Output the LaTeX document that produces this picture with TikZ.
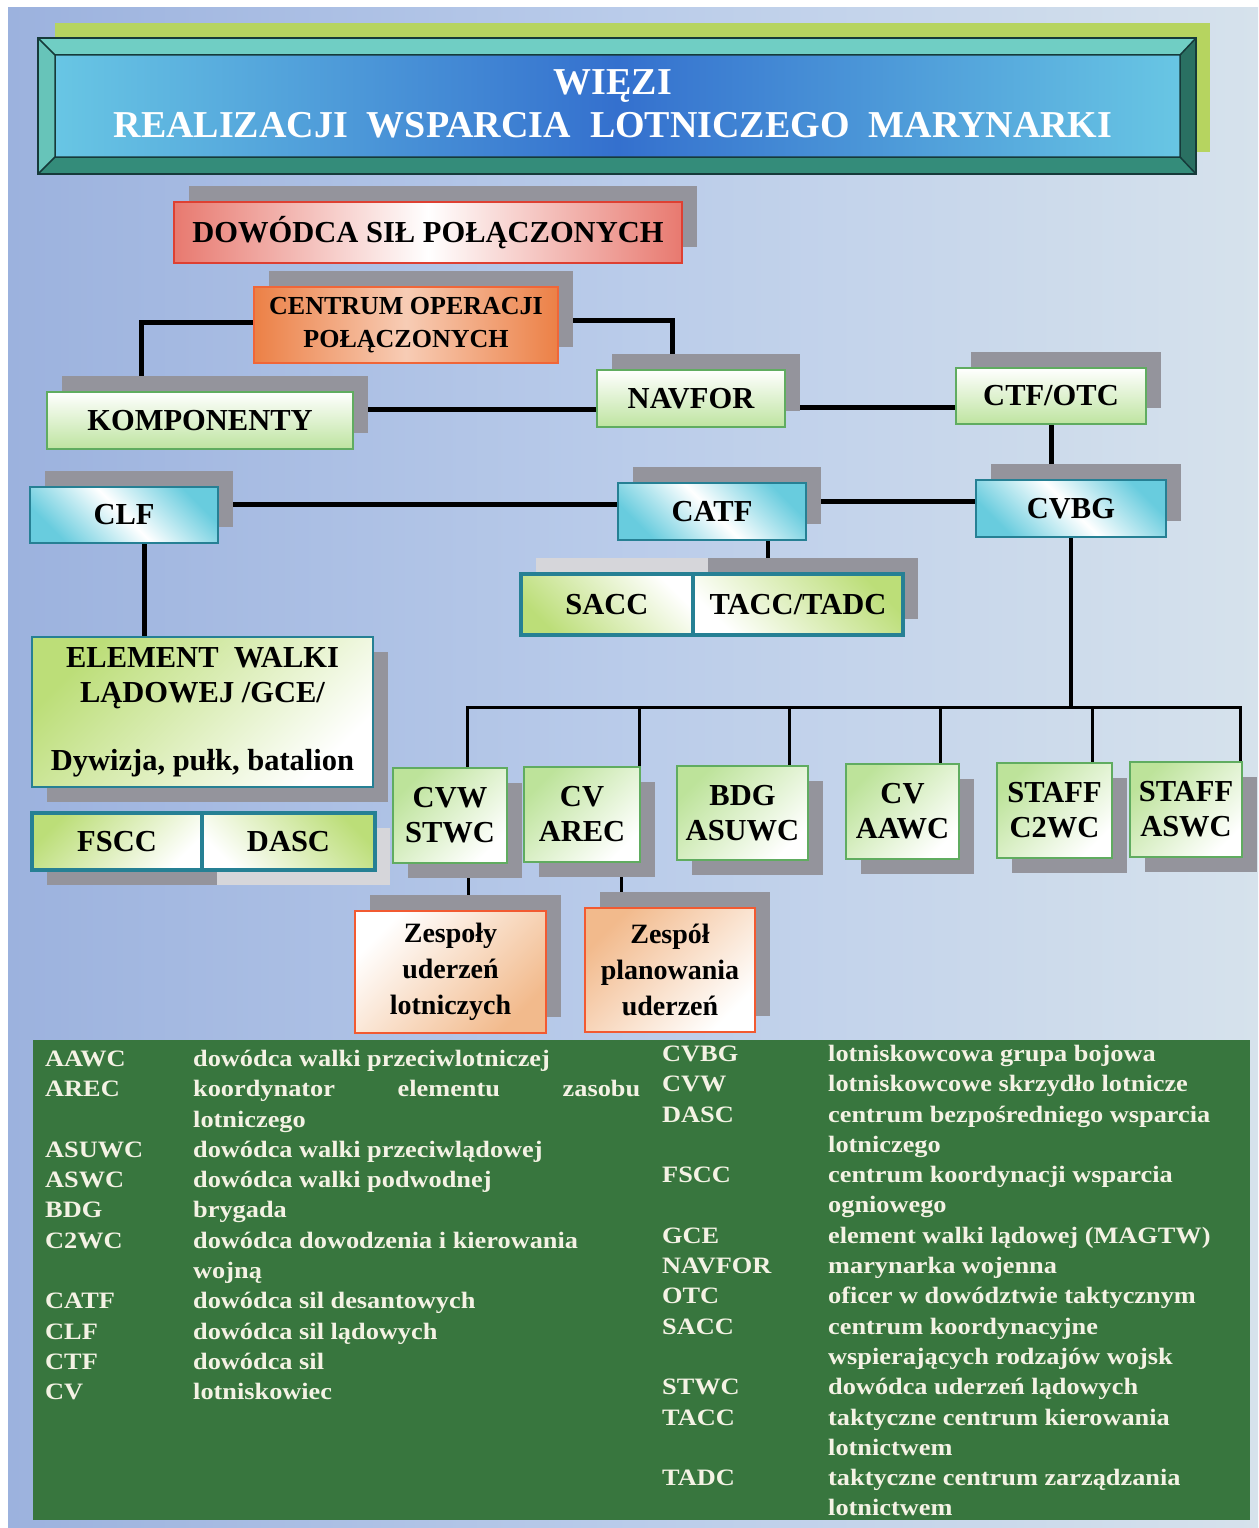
\documentclass[tikz,border=0pt]{standalone}
\usepackage{fontspec}
\setmainfont{Liberation Serif}
\newfontfamily\legendfont[FakeStretch=1.12]{Liberation Serif}
\usepackage{tikz}
\usetikzlibrary{positioning, calc, shadows}
\pgfdeclarelayer{back}
\pgfdeclarelayer{wires}
\pgfsetlayers{back,wires,main}
\definecolor{bgleft}{RGB}{156,178,222}
\definecolor{bgmid}{RGB}{186,204,234}
\definecolor{bgright}{RGB}{214,226,236}
\definecolor{shadowgray}{RGB}{148,148,156}
\definecolor{shadowpale}{RGB}{214,214,218}
\definecolor{titlegreen}{RGB}{182,212,96}
\definecolor{tealhi}{RGB}{112,206,196}
\definecolor{teallo}{RGB}{52,140,122}
\definecolor{tealdark}{RGB}{22,58,58}
\definecolor{titlemid}{RGB}{52,112,206}
\definecolor{titleedge}{RGB}{104,198,228}
\definecolor{boxred}{RGB}{222,64,50}
\definecolor{boxorange}{RGB}{236,128,70}
\definecolor{boxgreen}{RGB}{96,172,96}
\definecolor{paleleaf}{RGB}{190,228,160}
\definecolor{boxteal}{RGB}{38,128,148}
\definecolor{paleaqua}{RGB}{104,204,222}
\definecolor{limegreen}{RGB}{176,216,96}
\definecolor{peach}{RGB}{242,186,140}
\definecolor{legendgreen}{RGB}{56,118,62}
\definecolor{legendtext}{RGB}{244,242,228}

\begin{document}
\begin{tikzpicture}[
    x=1pt, y=-1pt,
    % Box Styles
    box/.style={rectangle, draw=#1, line width=1.5pt, align=center, inner sep=0pt, font=\fontsize{30.5}{35}\selectfont\bfseries},
    upshade/.style={drop shadow={shadow xshift=15pt, shadow yshift=16pt, fill=#1, opacity=1}},
    upshade/.default=shadowgray,
    downshade/.style={drop shadow={shadow xshift=15pt, shadow yshift=-15pt, fill=#1, opacity=1}},
    downshade/.default=shadowgray,
    redbox/.style={box=boxred, left color=boxred!70!white, right color=boxred!70!white, middle color=white},
    orangebox/.style={box=boxorange!80!red, left color=boxorange, right color=boxorange, middle color=boxorange!40!white},
    leafbox/.style={box=boxgreen, top color=white, bottom color=paleleaf},
    aquabox/.style={box=boxteal, left color=paleaqua, right color=paleaqua, middle color=white, shading angle=135},
    limebox/.style={box=boxteal, line width=3.5pt, left color=limegreen!85!white, right color=white, shading angle=#1},
    unitbox/.style={box=boxgreen, left color=paleleaf!90!limegreen, right color=white, shading angle=45},
    peachbox/.style 2 args={box=boxorange!70!red, left color=#1, right color=#2, shading angle=45, font=\fontsize{28}{36}\selectfont\bfseries},
    % Line Styles
    link/.style={line width=5pt},
    buslink/.style={line width=3pt},
    legend/.style={text=legendtext, align=left, inner sep=0pt, anchor=north west, font=\legendfont\fontsize{23.5}{30.3}\selectfont\bfseries}
]
    \useasboundingbox (0,0) rectangle (1258,1528);

    % =========================================================================
    % PAGE BACKGROUND
    % =========================================================================
    \begin{pgfonlayer}{back}
    \fill[white] (0,0) rectangle (1258,1528);
    \shade[left color=bgleft, right color=bgright, middle color=bgmid] (8,8) rectangle (1258,1528);
    \end{pgfonlayer}

    % =========================================================================
    % TITLE PLATE
    % =========================================================================
    \fill[titlegreen] (55,23) rectangle (1210,152);
    \shade[left color=titleedge, right color=titleedge, middle color=titlemid] (55,55) rectangle (1180,157);
    \fill[tealhi] (38,38) -- (1196,38) -- (1180,55) -- (55,55) -- cycle;
    \fill[tealhi!85!teallo] (38,38) -- (55,55) -- (55,157) -- (38,174) -- cycle;
    \fill[teallo] (38,174) -- (55,157) -- (1180,157) -- (1196,174) -- cycle;
    \fill[teallo!80!black] (1196,38) -- (1180,55) -- (1180,157) -- (1196,174) -- cycle;
    \draw[tealdark, line width=2.5pt] (38,38) rectangle (1196,174);
    \draw[tealdark, line width=1.5pt] (55,55) rectangle (1180,157)
      (38,38) -- (55,55) (1196,38) -- (1180,55) (38,174) -- (55,157) (1196,174) -- (1180,157);
    \node (title) [text=white, align=center, font=\fontsize{38}{43}\selectfont\bfseries] at (613,104)
      {WIĘZI\\REALIZACJI\ \ WSPARCIA\ \ LOTNICZEGO\ \ MARYNARKI};

    % =========================================================================
    % 1. COMMAND LEVEL
    % =========================================================================
    \node (dowodca) [redbox, upshade, minimum width=508pt, minimum height=61pt] at (428,232.5) {DOWÓDCA SIŁ POŁĄCZONYCH};
    \node (centrum) [orangebox, upshade, minimum width=304pt, minimum height=76pt, font=\fontsize{26}{33}\selectfont\bfseries] at (406,325) {CENTRUM OPERACJI\\POŁĄCZONYCH};
    \node (komp)   [leafbox, upshade, minimum width=306pt, minimum height=57pt] at (200,420.5) {KOMPONENTY};
    \node (navfor) [leafbox, upshade, minimum width=188pt, minimum height=57pt] at (691,398.5) {NAVFOR};
    \node (ctf)    [leafbox, upshade, minimum width=190pt, minimum height=56pt] at (1051,396) {CTF/OTC};

    % =========================================================================
    % 2. FORCE COMMANDERS
    % =========================================================================
    \node (clf)  [aquabox, upshade, minimum width=188pt, minimum height=56pt] at (124,515) {CLF};
    \node (catf) [aquabox, upshade, minimum width=188pt, minimum height=57pt] at (712,511.5) {CATF};
    \node (cvbg) [aquabox, upshade, minimum width=190pt, minimum height=57pt] at (1071,508.5) {CVBG};
    \node (sacc) [limebox=135, upshade=shadowpale, minimum width=172pt, minimum height=61pt] at (607,604.5) {SACC};
    \node (tacc) [limebox=-45, upshade, minimum width=210pt, minimum height=61pt] at (798,604.5) {TACC/TADC};

    % =========================================================================
    % 3. GROUND COMBAT ELEMENT
    % =========================================================================
    \node (element) [box=boxteal, left color=limegreen!85!white, right color=white, shading angle=45, downshade, minimum width=341pt, minimum height=150pt] at (202.5,712)
      {ELEMENT\ \ WALKI\\LĄDOWEJ /GCE/\\[33pt]Dywizja, pułk, batalion};
    \node (fscc) [limebox=45, downshade, minimum width=170pt, minimum height=57pt] at (117,841.5) {FSCC};
    \node (dasc) [limebox=-45, downshade=shadowpale, minimum width=173pt, minimum height=57pt] at (288.5,841.5) {DASC};

    % =========================================================================
    % 4. WARFARE COMMANDERS
    % =========================================================================
    \node (cvw)  [unitbox, downshade, minimum width=114pt, minimum height=95pt] at (450,815.5) {CVW\\STWC};
    \node (arec) [unitbox, downshade, minimum width=116pt, minimum height=95pt] at (582,814.5) {CV\\AREC};
    \node (bdg)  [unitbox, downshade, minimum width=131pt, minimum height=94pt] at (742.5,813) {BDG\\ASUWC};
    \node (aawc) [unitbox, downshade, minimum width=113pt, minimum height=95pt] at (902.5,811.5) {CV\\AAWC};
    \node (c2wc) [unitbox, downshade, minimum width=115pt, minimum height=95pt] at (1054.5,810.5) {STAFF\\C2WC};
    \node (aswc) [unitbox, downshade, minimum width=112pt, minimum height=95pt] at (1186,809.5) {STAFF\\ASWC};

    \node (zespoly) [peachbox={white}{peach}, upshade, minimum width=191pt, minimum height=122pt] at (450.5,972) {Zespoły\\uderzeń\\lotniczych};
    \node (zespol)  [peachbox={peach}{white}, upshade, minimum width=170pt, minimum height=124pt] at (670,970) {Zespół\\planowania\\uderzeń};

    % =========================================================================
    % CONNECTIONS
    % =========================================================================
    \coordinate (bus) at ($(cvbg.south)+(0,170)$);
    \begin{pgfonlayer}{wires}
    \draw[link] ([yshift=3pt]centrum.west) -| ([xshift=-59pt]komp.north);
    \draw[link] ([yshift=5pt]centrum.east) -| ([xshift=-19pt]navfor.north);
    \draw[link] ([yshift=11.5pt]komp.east) -- ([yshift=-10.5pt]navfor.west);
    \draw[link] ([yshift=-8.5pt]navfor.east) -- ([yshift=-11pt]ctf.west);
    \draw[link] (ctf.south) -- (ctf.south |- cvbg.north);
    \draw[link] ([yshift=11pt]clf.east) -- ([yshift=7.5pt]catf.west);
    \draw[link] ([yshift=10.5pt]catf.east) -- ([yshift=7.5pt]cvbg.west);
    \draw[link] ([xshift=20pt]clf.south) -- ([xshift=-58.5pt]element.north);
    \draw[link, line width=4pt] ([xshift=56pt]catf.south) -- ([xshift=-30pt]tacc.north);
    \draw[link, line width=4pt] (cvbg.south) -- (bus);
    \draw[buslink] ([xshift=17pt]cvw.north) |- (bus) -| ([xshift=54pt]aswc.north);
    \draw[buslink] ([xshift=57pt]arec.north) |- (bus);
    \draw[buslink] ([xshift=46.5pt]bdg.north) |- (bus);
    \draw[buslink] ([xshift=37.5pt]aawc.north) |- (bus);
    \draw[buslink] ([xshift=37.5pt]c2wc.north) |- (bus);
    \draw[buslink] ([xshift=18pt]cvw.south) -- ([xshift=17.5pt]zespoly.north);
    \draw[buslink] ([xshift=39pt]arec.south) -- ([xshift=-49pt]zespol.north);
    \end{pgfonlayer}

    % =========================================================================
    % LEGEND
    % =========================================================================
    \fill[legendgreen] (33,1040) rectangle (1250,1520);
    \node (abbrleft) [legend] at (45,1045)
      {\strut AAWC\\AREC\\[30.3pt]ASUWC\\ASWC\\BDG\\C2WC\\[30.3pt]CATF\\CLF\\CTF\\CV};
    \node (descleft) [legend] at (193,1045)
      {\strut dowódca walki przeciwlotniczej\\
       \makebox[447pt][s]{koordynator elementu zasobu}\\
       lotniczego\\
       dowódca walki przeciwlądowej\\
       dowódca walki podwodnej\\
       brygada\\
       dowódca dowodzenia i kierowania\\
       wojną\\
       dowódca sil desantowych\\
       dowódca sil lądowych\\
       dowódca sil\\
       lotniskowiec};
    \node (abbrright) [legend] at (662,1040)
      {\strut CVBG\\CVW\\DASC\\[30.3pt]FSCC\\[30.3pt]GCE\\NAVFOR\\OTC\\SACC\\[30.3pt]STWC\\TACC\\[30.3pt]TADC};
    \node (descright) [legend] at (828,1040)
      {\strut lotniskowcowa grupa bojowa\\
       lotniskowcowe skrzydło lotnicze\\
       centrum bezpośredniego wsparcia\\
       lotniczego\\
       centrum koordynacji wsparcia\\
       ogniowego\\
       element walki lądowej (MAGTW)\\
       marynarka wojenna\\
       oficer w dowództwie taktycznym\\
       centrum koordynacyjne\\
       wspierających rodzajów wojsk\\
       dowódca uderzeń lądowych\\
       taktyczne centrum kierowania\\
       lotnictwem\\
       taktyczne centrum zarządzania\\
       lotnictwem};

\end{tikzpicture}
\end{document}
